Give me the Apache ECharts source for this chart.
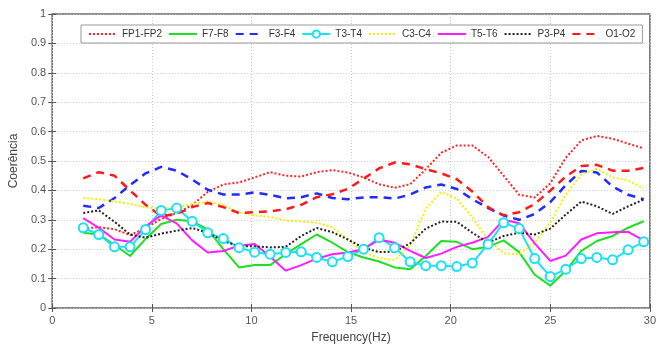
<!DOCTYPE html>
<html>
<head>
<meta charset="utf-8">
<script src="https://cdn.jsdelivr.net/npm/echarts@6/dist/echarts.min.js"></script>
<style>
  html, body { margin: 0; padding: 0; background: #fff; }
  #chart { width: 659px; height: 349px; }
</style>
</head>
<body>
<div id="chart"></div>
<script>
// frequency bins (Hz)
const freqs = [1.56, 2.34, 3.13, 3.91, 4.69, 5.47, 6.25, 7.03, 7.81, 8.59, 9.38, 10.16, 10.94,
  11.72, 12.5, 13.28, 14.06, 14.84, 15.63, 16.41, 17.19, 17.97, 18.75, 19.53, 20.31, 21.09,
  21.88, 22.66, 23.44, 24.22, 25, 25.78, 26.56, 27.34, 28.13, 28.91, 29.69];

// coherence per electrode pair
const fp1fp2 = [0.27, 0.275, 0.268, 0.248, 0.272, 0.303, 0.323, 0.35, 0.395, 0.42, 0.427, 0.444, 0.462,
  0.45, 0.447, 0.462, 0.469, 0.461, 0.444, 0.421, 0.409, 0.421, 0.472, 0.528, 0.553, 0.553,
  0.514, 0.45, 0.385, 0.376, 0.424, 0.511, 0.57, 0.585, 0.576, 0.559, 0.543];
const f7f8 = [0.256, 0.25, 0.215, 0.177, 0.235, 0.286, 0.30, 0.295, 0.267, 0.2, 0.138, 0.146, 0.146,
  0.183, 0.217, 0.25, 0.222, 0.19, 0.172, 0.158, 0.138, 0.132, 0.177, 0.228, 0.225, 0.2,
  0.208, 0.23, 0.19, 0.113, 0.076, 0.127, 0.194, 0.228, 0.245, 0.273, 0.295];
const f3f4 = [0.348, 0.34, 0.374, 0.418, 0.458, 0.48, 0.467, 0.437, 0.402, 0.386, 0.386, 0.393, 0.385,
  0.373, 0.377, 0.39, 0.374, 0.37, 0.376, 0.377, 0.372, 0.386, 0.41, 0.42, 0.405, 0.37,
  0.34, 0.315, 0.30, 0.32, 0.36, 0.418, 0.466, 0.461, 0.413, 0.385, 0.37];
const t3t4 = [0.273, 0.25, 0.208, 0.208, 0.267, 0.332, 0.34, 0.295, 0.256, 0.236, 0.205, 0.19, 0.183,
  0.189, 0.191, 0.172, 0.157, 0.175, 0.2, 0.239, 0.205, 0.157, 0.144, 0.144, 0.141, 0.153,
  0.217, 0.29, 0.27, 0.168, 0.107, 0.132, 0.168, 0.172, 0.164, 0.198, 0.225];
const c3c4 = [0.374, 0.37, 0.363, 0.354, 0.342, 0.338, 0.343, 0.354, 0.362, 0.35, 0.325, 0.315, 0.31,
  0.298, 0.294, 0.29, 0.275, 0.233, 0.19, 0.17, 0.163, 0.213, 0.337, 0.395, 0.372, 0.308,
  0.233, 0.186, 0.183, 0.222, 0.292, 0.385, 0.455, 0.473, 0.444, 0.434, 0.407];
const t5t6 = [0.306, 0.273, 0.233, 0.225, 0.278, 0.315, 0.288, 0.23, 0.189, 0.194, 0.212, 0.218, 0.175,
  0.127, 0.146, 0.168, 0.183, 0.189, 0.2, 0.233, 0.222, 0.194, 0.17, 0.185, 0.208, 0.222,
  0.242, 0.30, 0.288, 0.22, 0.16, 0.178, 0.233, 0.254, 0.258, 0.259, 0.23];
const p3p4 = [0.323, 0.332, 0.293, 0.25, 0.239, 0.253, 0.263, 0.272, 0.256, 0.228, 0.21, 0.21, 0.206,
  0.208, 0.245, 0.272, 0.258, 0.233, 0.205, 0.19, 0.192, 0.22, 0.27, 0.294, 0.293, 0.256,
  0.222, 0.245, 0.256, 0.25, 0.27, 0.318, 0.362, 0.346, 0.32, 0.346, 0.369];
const o1o2 = [0.441, 0.462, 0.45, 0.40, 0.351, 0.313, 0.32, 0.343, 0.357, 0.343, 0.323, 0.326, 0.329,
  0.336, 0.351, 0.377, 0.387, 0.405, 0.44, 0.475, 0.495, 0.489, 0.472, 0.458, 0.438, 0.396,
  0.343, 0.315, 0.326, 0.354, 0.399, 0.447, 0.483, 0.487, 0.467, 0.467, 0.476];

const xTicks = [0, 5, 10, 15, 20, 25, 30];
const yTicks = [0, 0.1, 0.2, 0.3, 0.4, 0.5, 0.6, 0.7, 0.8, 0.9, 1];

const font = 'Liberation Sans, Arial, sans-serif';
const pairs = arr => arr.map((v, i) => [freqs[i], v]);

const seriesDefs = [
  { name: 'FP1-FP2', data: fp1fp2, color: '#ff2424', type: [2, 2], width: 2 },
  { name: 'F7-F8', data: f7f8, color: '#1ee01e', type: 'solid', width: 2 },
  { name: 'F3-F4', data: f3f4, color: '#1f2bff', type: [8, 6], width: 2.5 },
  { name: 'T3-T4', data: t3t4, color: '#19e2f2', type: 'solid', width: 2, marker: true },
  { name: 'C3-C4', data: c3c4, color: '#f7f000', type: [2, 2], width: 2 },
  { name: 'T5-T6', data: t5t6, color: '#ff1cff', type: 'solid', width: 2 },
  { name: 'P3-P4', data: p3p4, color: '#222222', type: [2, 2], width: 2 },
  { name: 'O1-O2', data: o1o2, color: '#ff1a1a', type: [8, 6], width: 2.5 }
];

const chart = echarts.init(document.getElementById('chart'));

const tickStyle = { inside: true, length: 4, lineStyle: { color: '#555' } };
const gridLine = { show: true, lineStyle: { color: '#c8c8c8', type: [1, 2] } };

// legend: only the T3-T4 entry keeps its circle, the others show just the line
const legendData = seriesDefs.map(s => s.marker
  ? { name: s.name }
  : { name: s.name, itemStyle: { color: 'rgba(0,0,0,0)', borderColor: 'rgba(0,0,0,0)', borderWidth: 0 } });

chart.setOption({
  animation: false,
  backgroundColor: '#fff',
  textStyle: { fontFamily: font },
  grid: {
    left: 49, right: 3, top: 14, bottom: 38,
    show: true, borderColor: '#666', borderWidth: 1.5
  },
  legend: {
    left: 81, top: 25,
    padding: [4, 7],
    itemWidth: 28, itemHeight: 9, itemGap: 6,
    borderColor: '#999', borderWidth: 1, backgroundColor: '#fff',
    textStyle: { fontSize: 10, color: '#333', fontFamily: font },
    data: legendData
  },
  xAxis: [{
    type: 'value', min: 0, max: 30, interval: 5,
    name: 'Frequency(Hz)', nameLocation: 'middle', nameGap: 24,
    nameTextStyle: { fontSize: 12, color: '#444', fontFamily: font },
    axisLine: { show: false },
    axisTick: tickStyle,
    axisLabel: { fontSize: 11, color: '#555', margin: 7, formatter: v => xTicks.includes(v) ? String(v) : '' },
    splitLine: gridLine
  }, {
    type: 'value', min: 0, max: 30, interval: 5, position: 'top',
    axisLine: { show: false }, axisTick: tickStyle, axisLabel: { show: false }, splitLine: { show: false }
  }],
  yAxis: [{
    type: 'value', min: 0, max: 1, interval: 0.1,
    name: 'Coerência', nameLocation: 'middle', nameGap: 20,
    nameTextStyle: { fontSize: 12, color: '#444', fontFamily: font },
    axisLine: { show: false },
    axisTick: tickStyle,
    axisLabel: { fontSize: 11, color: '#555', margin: 6,
      formatter: v => { const t = yTicks.find(y => Math.abs(y - v) < 1e-6); return t === undefined ? '' : String(t); } },
    splitLine: gridLine
  }, {
    type: 'value', min: 0, max: 1, interval: 0.1, position: 'right',
    axisLine: { show: false }, axisTick: tickStyle, axisLabel: { show: false }, splitLine: { show: false }
  }],
  series: seriesDefs.map(s => ({
    name: s.name,
    type: 'line',
    data: pairs(s.data),
    symbol: s.marker ? 'emptyCircle' : 'none',
    showSymbol: !!s.marker,
    symbolSize: 9,
    color: s.color,
    itemStyle: { color: s.color, borderWidth: 2 },
    lineStyle: { color: s.color, width: s.width, type: s.type },
    emphasis: { disabled: true }
  }))
});
</script>
</body>
</html>
